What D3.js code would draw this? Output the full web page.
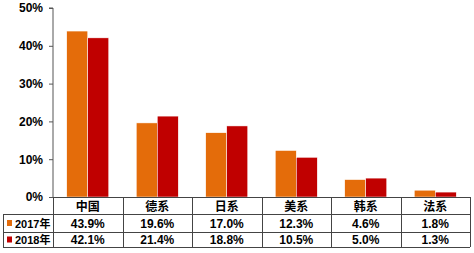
<!DOCTYPE html>
<html>
<head>
<meta charset="utf-8">
<script src="https://cdn.jsdelivr.net/npm/d3@7"></script>
<style>
  body { margin: 0; background: #fff; }
  text { font-family: "Liberation Sans", Arial, "Noto Sans CJK SC", sans-serif; font-weight: bold; fill: #000; }
</style>
</head>
<body>
<div id="container"></div>
<script>
/* DATA */
const categories = ["中国", "德系", "日系", "美系", "韩系", "法系"];
const seriesNames = ["2017年", "2018年"];
const values2017 = [43.9, 19.6, 17.0, 12.3, 4.6, 1.8];
const values2018 = [42.1, 21.4, 18.8, 10.5, 5.0, 1.3];
const yTicks = [0, 10, 20, 30, 40, 50];

/* CONSTANTS */
const width = 474, height = 253,
  margin = { top: 8, left: 53, right: 4 },
  plotBottom = 197,
  rowH = [17, 18, 15],
  tableLeft = 3,
  colors = ["#E46C0A", "#C00000"];

const series = [values2017, values2018];

const svg = d3.select("#container").append("svg")
  .attr("width", width).attr("height", height);

/* SCALES */
const xScale = d3.scaleBand()
  .domain(categories)
  .range([margin.left, width - margin.right]);

const inner = d3.scaleBand()
  .domain(seriesNames)
  .range([0, 42])
  .paddingInner(0);

const yScale = d3.scaleLinear()
  .domain([0, 50])
  .range([plotBottom, margin.top]);

/* AXIS */
const yAxis = d3.axisLeft(yScale)
  .tickValues(yTicks)
  .tickFormat(d => d + "%")
  .tickSize(4)
  .tickPadding(6);

const gy = svg.append("g")
  .attr("transform", `translate(${margin.left},0)`)
  .call(yAxis);
gy.select(".domain").attr("stroke", "#555").attr("d", `M-4,${margin.top}H0V${plotBottom}`);
gy.selectAll(".tick line").attr("stroke", "#555");
gy.selectAll(".tick text").style("font-size", "12px").style("font-family", "Liberation Sans, Arial, sans-serif").style("font-weight", "bold");

/* BARS */
const groups = svg.append("g").selectAll("g")
  .data(categories)
  .join("g")
  .attr("transform", d => `translate(${xScale(d) + xScale.bandwidth() / 2 - 21},0)`);

groups.selectAll("rect")
  .data((d, i) => seriesNames.map((s, j) => ({ s, v: series[j][i] })))
  .join("rect")
  .attr("x", d => inner(d.s))
  .attr("width", inner.bandwidth())
  .attr("y", d => yScale(d.v))
  .attr("height", d => yScale(0) - yScale(d.v))
  .attr("fill", (d, j) => colors[j])
  .attr("stroke", "#fff")
  .attr("stroke-width", 0.5);

/* DATA TABLE */
const rowY = [plotBottom, plotBottom + rowH[0], plotBottom + rowH[0] + rowH[1], plotBottom + rowH[0] + rowH[1] + rowH[2]];
const right = width - margin.right;
const table = svg.append("g").attr("stroke", "#444").attr("stroke-width", 1).attr("fill", "none");

// horizontal lines
table.append("line").attr("x1", margin.left).attr("x2", right).attr("y1", rowY[0] + 0.5).attr("y2", rowY[0] + 0.5);
[1, 2, 3].forEach(k => {
  table.append("line").attr("x1", tableLeft).attr("x2", right).attr("y1", rowY[k] + 0.5).attr("y2", rowY[k] + 0.5);
});
// vertical lines
table.append("line").attr("x1", tableLeft + 0.5).attr("x2", tableLeft + 0.5).attr("y1", rowY[1]).attr("y2", rowY[3]);
categories.forEach(c => {
  const x = Math.round(xScale(c)) + 0.5;
  table.append("line").attr("x1", x).attr("x2", x).attr("y1", rowY[0]).attr("y2", rowY[3]);
});
table.append("line").attr("x1", right + 0.5).attr("x2", right + 0.5).attr("y1", rowY[0]).attr("y2", rowY[3]);

// category labels
svg.append("g").selectAll("text")
  .data(categories)
  .join("text")
  .attr("x", d => xScale(d) + xScale.bandwidth() / 2)
  .attr("y", (rowY[0] + rowY[1]) / 2 + 5)
  .attr("text-anchor", "middle")
  .style("font-size", "12px")
  .style("font-family", "Noto Sans CJK SC, sans-serif")
  .text(d => d);

// series rows
seriesNames.forEach((s, j) => {
  const cy = (rowY[j + 1] + rowY[j + 2]) / 2;
  svg.append("rect")
    .attr("x", 7).attr("y", cy - 3)
    .attr("width", 5).attr("height", 6)
    .attr("fill", colors[j]);
  svg.append("text")
    .attr("x", 15).attr("y", cy + 4.5)
    .style("font-size", "11px")
    .text(s);
  svg.append("g").selectAll("text")
    .data(categories)
    .join("text")
    .attr("x", d => xScale(d) + xScale.bandwidth() / 2)
    .attr("y", cy + 4.5)
    .attr("text-anchor", "middle")
    .style("font-size", "12px")
    .text((d, i) => series[j][i].toFixed(1) + "%");
});
</script>
</body>
</html>
